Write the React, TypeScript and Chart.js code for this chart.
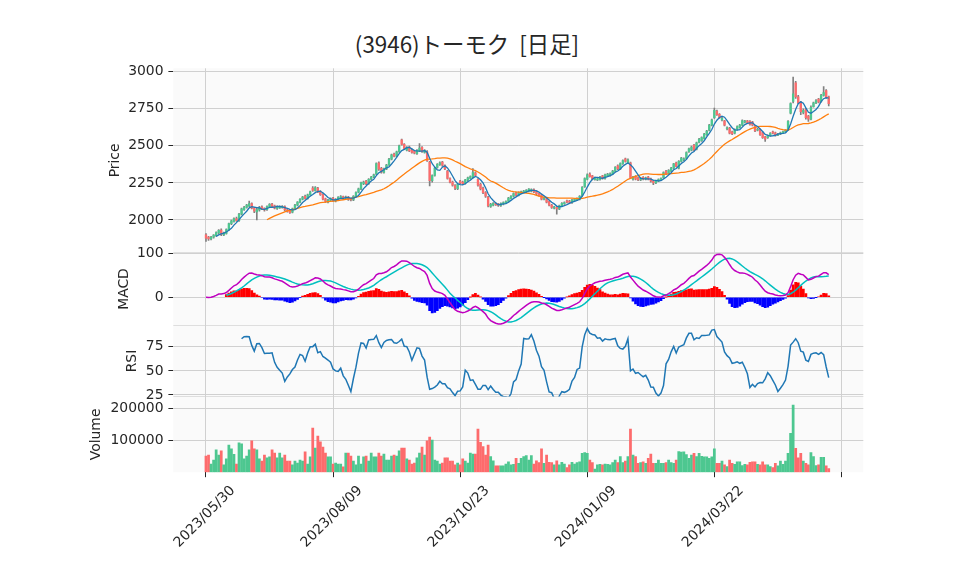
import React, { useEffect, useRef } from "react";
import { Chart, registerables } from "chart.js";

Chart.register(...registerables);

const chartTitle = "(3946)トーモク  [日足]";
const tickIndex = [0, 50, 100, 150, 200, 250];
const tickLabels = ["2023/05/30", "2023/08/09", "2023/10/23", "2024/01/09", "2024/03/22", ""];
const priceTicks = [2000, 2250, 2500, 2750, 3000];
const macdTicks = [0, 100];
const rsiTicks = [25, 50, 75];
const volumeTicks = [100000, 200000];

const opens = [
  1900,1885,1872,1885,1895,1912,1932,1900,1910,1935,
  1975,1990,2010,1995,2040,2070,2085,2095,2110,2080,
  2055,2068,2088,2078,2070,2090,2108,2095,2078,2082,
  2085,2090,2068,2062,2052,2075,2100,2120,2140,2160,
  2145,2170,2215,2198,2215,2192,2172,2142,2122,2132,
  2148,2128,2140,2150,2158,2148,2155,2140,2135,2160,
  2188,2210,2245,2262,2245,2275,2290,2310,2385,2348,
  2320,2345,2372,2410,2445,2430,2460,2540,2510,2470,
  2492,2470,2465,2448,2465,2490,2455,2460,2390,2265,
  2300,2355,2375,2390,2368,2330,2280,2255,2232,2212,
  2262,2255,2248,2268,2280,2290,2318,2275,2240,2215,
  2185,2155,2092,2100,2112,2108,2098,2108,2115,2125,
  2145,2160,2182,2168,2182,2188,2190,2195,2195,2205,
  2192,2178,2170,2140,2145,2125,2100,2080,2085,2075,
  2095,2110,2130,2128,2118,2132,2136,2140,2165,2225,
  2275,2310,2298,2272,2270,2272,2298,2280,2298,2300,
  2312,2330,2365,2345,2380,2412,2385,2385,2275,2295,
  2285,2270,2288,2275,2290,2278,2262,2250,2262,2270,
  2285,2330,2312,2330,2350,2385,2350,2395,2405,2415,
  2460,2470,2505,2478,2525,2535,2550,2575,2605,2640,
  2690,2735,2712,2675,2668,2615,2620,2595,2585,2612,
  2625,2640,2660,2668,2665,2660,2632,2605,2610,2590,
  2560,2555,2570,2595,2588,2572,2580,2588,2595,2608,
  2720,2800,2925,2830,2795,2725,2745,2700,2680,2765,
  2790,2815,2800,2840,2872,2830,
];

const highs = [
  1908,1890,1890,1902,1920,1935,1940,1918,1940,1980,
  2000,2015,2020,2045,2080,2092,2105,2128,2115,2085,
  2078,2092,2095,2082,2095,2110,2112,2100,2095,2095,
  2098,2095,2075,2068,2080,2105,2125,2145,2160,2168,
  2175,2195,2225,2225,2220,2198,2178,2148,2140,2150,
  2152,2145,2158,2165,2162,2162,2160,2145,2165,2190,
  2215,2255,2262,2268,2280,2295,2310,2385,2392,2355,
  2350,2375,2415,2445,2452,2465,2505,2545,2515,2495,
  2498,2478,2470,2475,2515,2495,2475,2468,2395,2305,
  2355,2380,2392,2395,2372,2335,2285,2262,2238,2245,
  2268,2262,2275,2290,2298,2347,2325,2280,2248,2222,
  2192,2160,2112,2118,2118,2112,2115,2122,2130,2152,
  2165,2183,2188,2190,2195,2200,2205,2212,2210,2210,
  2198,2182,2175,2155,2150,2130,2105,2092,2090,2100,
  2118,2122,2135,2132,2140,2145,2150,2165,2225,2285,
  2312,2318,2302,2290,2282,2295,2302,2310,2315,2318,
  2335,2360,2372,2385,2405,2418,2412,2390,2295,2300,
  2290,2288,2292,2290,2295,2282,2268,2268,2278,2285,
  2325,2335,2340,2355,2382,2390,2400,2422,2420,2460,
  2485,2498,2510,2525,2550,2560,2585,2605,2645,2680,
  2755,2742,2718,2692,2672,2628,2625,2600,2615,2635,
  2645,2675,2672,2672,2670,2665,2638,2618,2615,2595,
  2565,2575,2590,2600,2592,2585,2592,2600,2610,2670,
  2790,2964,2935,2840,2800,2750,2752,2705,2770,2795,
  2812,2820,2848,2900,2880,2835,
];

const lows = [
  1855,1862,1866,1878,1890,1905,1895,1895,1905,1930,
  1968,1985,1990,1990,2035,2065,2080,2090,2075,2050,
  2000,2060,2070,2060,2065,2085,2088,2075,2072,2078,
  2080,2062,2052,2045,2048,2070,2095,2115,2135,2140,
  2140,2165,2192,2195,2185,2165,2135,2118,2115,2128,
  2125,2122,2135,2145,2142,2142,2132,2128,2130,2155,
  2182,2205,2238,2238,2240,2270,2285,2305,2335,2315,
  2315,2340,2368,2405,2425,2425,2455,2505,2475,2465,
  2460,2450,2445,2442,2460,2455,2450,2395,2230,2255,
  2295,2350,2368,2362,2340,2275,2250,2228,2205,2205,
  2245,2238,2242,2262,2275,2285,2295,2228,2202,2178,
  2152,2088,2085,2095,2098,2092,2092,2102,2110,2120,
  2140,2155,2162,2162,2178,2182,2185,2190,2190,2185,
  2170,2160,2135,2135,2115,2095,2078,2075,2040,2070,
  2090,2105,2115,2112,2112,2128,2130,2135,2160,2220,
  2270,2288,2270,2268,2265,2268,2275,2275,2292,2296,
  2308,2325,2340,2340,2375,2390,2380,2278,2268,2270,
  2265,2265,2270,2270,2270,2255,2238,2245,2258,2265,
  2280,2305,2308,2326,2345,2358,2345,2390,2400,2410,
  2455,2465,2465,2472,2520,2530,2545,2570,2600,2635,
  2685,2705,2685,2668,2635,2608,2580,2575,2580,2605,
  2620,2635,2655,2650,2640,2635,2595,2600,2570,2550,
  2530,2550,2565,2580,2565,2568,2575,2582,2590,2602,
  2715,2790,2820,2785,2710,2715,2680,2665,2675,2760,
  2785,2790,2795,2835,2820,2770,
];

const closes = [
  1878,1872,1885,1898,1915,1930,1902,1912,1935,1975,
  1995,2010,1995,2040,2075,2085,2100,2110,2080,2060,
  2070,2085,2075,2068,2090,2105,2092,2080,2090,2088,
  2092,2068,2058,2050,2075,2100,2120,2140,2155,2145,
  2170,2190,2200,2218,2190,2170,2140,2125,2135,2145,
  2130,2140,2152,2158,2148,2155,2138,2135,2160,2185,
  2210,2250,2255,2245,2275,2290,2305,2380,2342,2322,
  2345,2370,2410,2440,2430,2460,2500,2510,2480,2490,
  2465,2455,2450,2470,2485,2462,2470,2400,2265,2300,
  2350,2375,2385,2370,2345,2280,2255,2235,2215,2240,
  2250,2245,2270,2285,2292,2320,2300,2235,2210,2185,
  2160,2095,2105,2112,2102,2098,2110,2118,2125,2148,
  2160,2178,2168,2185,2190,2195,2200,2208,2205,2190,
  2175,2165,2140,2150,2120,2100,2085,2088,2075,2095,
  2112,2118,2120,2118,2135,2140,2145,2160,2220,2280,
  2305,2292,2275,2285,2278,2290,2280,2305,2310,2312,
  2330,2355,2345,2380,2400,2395,2405,2285,2290,2275,
  2270,2282,2275,2285,2275,2262,2250,2262,2272,2280,
  2320,2310,2335,2350,2378,2362,2395,2418,2412,2455,
  2480,2492,2470,2520,2545,2555,2580,2600,2640,2675,
  2740,2710,2690,2685,2640,2622,2585,2580,2610,2630,
  2640,2670,2665,2655,2645,2640,2600,2612,2575,2555,
  2545,2570,2585,2585,2572,2580,2588,2595,2605,2665,
  2785,2850,2830,2790,2730,2740,2690,2680,2760,2790,
  2805,2795,2840,2860,2825,2785,
];

const volumes = [
  51000,54000,26000,38000,70000,54000,67000,23000,42000,85000,
  73000,56000,26000,92000,89000,42000,51000,70000,98000,73000,
  70000,42000,35000,54000,45000,48000,70000,60000,45000,60000,
  45000,54000,35000,35000,23000,35000,29000,38000,35000,64000,
  26000,48000,138000,76000,113000,95000,79000,60000,48000,48000,
  26000,29000,26000,26000,17000,60000,60000,51000,35000,23000,
  51000,26000,48000,51000,35000,60000,48000,48000,60000,51000,
  57000,38000,38000,51000,54000,51000,67000,76000,76000,42000,
  38000,26000,29000,45000,60000,79000,54000,98000,110000,101000,
  38000,35000,26000,29000,45000,45000,35000,35000,23000,29000,
  23000,42000,35000,29000,60000,57000,57000,135000,94000,80000,
  54000,85000,49000,36000,20000,20000,20000,20000,26000,33000,
  23000,25000,44000,28000,44000,49000,52000,38000,52000,26000,
  36000,30000,73000,28000,54000,31000,30000,23000,36000,23000,
  31000,26000,15000,23000,31000,26000,30000,33000,59000,62000,
  59000,38000,30000,10000,23000,25000,23000,26000,25000,23000,
  30000,38000,30000,49000,30000,35000,49000,135000,54000,49000,
  28000,30000,33000,28000,44000,57000,28000,28000,38000,28000,
  28000,30000,38000,30000,28000,38000,65000,63000,64000,55000,
  44000,54000,59000,49000,59000,50000,48000,48000,44000,48000,
  73000,28000,28000,35000,23000,18000,38000,28000,25000,33000,
  33000,21000,25000,23000,31000,33000,33000,25000,23000,33000,
  23000,23000,18000,15000,28000,20000,35000,25000,35000,59000,
  122000,210000,75000,45000,59000,35000,28000,23000,62000,49000,
  21000,23000,47000,47000,20000,12000,
];

const UP = "#4dc790";
const DOWN = "#fd6b6c";
const WICK = "#808080";
const GRID = "#d0d0d0";
const TEXT = "#262626";
const FONT = { family: '"DejaVu Sans", "Noto Sans CJK JP", sans-serif', size: 13.9 };

function sma(src: number[], n: number): (number | null)[] {
  return src.map((_, i) => {
    if (i < n - 1) return null;
    let s = 0;
    for (let k = i - n + 1; k <= i; k++) s += src[k];
    return s / n;
  });
}

function ema(src: number[], span: number): number[] {
  const a = 2 / (span + 1);
  const out: number[] = [];
  src.forEach((v, i) => out.push(i === 0 ? v : a * v + (1 - a) * out[i - 1]));
  return out;
}

function rsi(src: number[], n: number): (number | null)[] {
  return src.map((_, i) => {
    if (i < n) return null;
    let g = 0, l = 0;
    for (let k = i - n + 1; k <= i; k++) {
      const d = src[k] - src[k - 1];
      if (d > 0) g += d; else l -= d;
    }
    if (l === 0) return 100;
    const rs = g / l;
    return 100 - 100 / (1 + rs);
  });
}

const yWidth = (s: any) => { s.width = 173.3; };
const setTicks = (vals: number[]) => (s: any) => { s.ticks = vals.map((v) => ({ value: v })); };

function yAxis(weight: number, min: number, max: number, ticks: number[], label: string, pad: number) {
  return {
    type: "linear" as const,
    position: "left" as const,
    stack: "panels",
    stackWeight: weight,
    offset: false,
    min,
    max,
    afterBuildTicks: setTicks(ticks),
    afterFit: yWidth,
    border: { display: false },
    grid: { color: GRID, lineWidth: 1, tickColor: TEXT, tickLength: 4.9, offset: false },
    ticks: { color: TEXT, font: FONT, padding: 4.9, autoSkip: false, callback: (v: any) => String(v) },
    title: { display: true, text: label, color: TEXT, font: FONT, padding: { top: pad, bottom: 0 } },
  };
}

const panelPlugin = {
  id: "panelBg",
  beforeDraw(chart: any) {
    const { ctx, chartArea: a } = chart;
    ctx.save();
    ctx.fillStyle = "#fafafa";
    ctx.fillRect(a.left, a.top, a.right - a.left, a.bottom - a.top);
    ctx.strokeStyle = "#dedede";
    ctx.lineWidth = 1;
    ["yMacd", "yRsi", "yVol"].forEach((id) => {
      const y = chart.scales[id].top;
      ctx.beginPath();
      ctx.moveTo(a.left, y);
      ctx.lineTo(a.right, y);
      ctx.stroke();
    });
    ctx.restore();
  },
};

export default function App() {
  const ref = useRef<HTMLCanvasElement>(null);

  useEffect(() => {
    const canvas = ref.current!;
    const isUp = closes.map((c, i) => c >= opens[i]);
    const candleColors = isUp.map((u) => (u ? UP : DOWN));
    const ma5 = sma(closes, 5);
    const ma25 = sma(closes, 25);
    const e12 = ema(closes, 12);
    const e26 = ema(closes, 26);
    const macd = e12.map((v, i) => v - e26[i]);
    const signal = sma(macd, 9);
    const hist = macd.map((v, i) => (signal[i] === null ? null : v - (signal[i] as number)));
    const rsi14 = rsi(closes, 14);

    const pts = (arr: (number | null)[]) => arr.map((y, x) => ({ x, y }));

    const chart = new Chart(canvas, {
      type: "bar",
      data: {
        datasets: [
          { type: "line", label: "MA5", data: pts(ma5), yAxisID: "yPrice", borderColor: "#1f77b4", borderWidth: 1.3, pointRadius: 0, order: 0 },
          { type: "line", label: "MA25", data: pts(ma25), yAxisID: "yPrice", borderColor: "#ff7f0e", borderWidth: 1.3, pointRadius: 0, order: 0 },
          { type: "line", label: "MACD", data: pts(macd), yAxisID: "yMacd", borderColor: "#bf00bf", borderWidth: 1.5, pointRadius: 0, order: 0 },
          { type: "line", label: "Signal", data: pts(signal), yAxisID: "yMacd", borderColor: "#00bfbf", borderWidth: 1.5, pointRadius: 0, order: 0 },
          { type: "line", label: "RSI", data: pts(rsi14), yAxisID: "yRsi", borderColor: "#1f77b4", borderWidth: 1.5, pointRadius: 0, order: 0 },
          {
            type: "bar", label: "body", yAxisID: "yPrice", order: 2, grouped: false, barThickness: 1.7, minBarLength: 1,
            data: opens.map((o, i) => ({ x: i, y: [o, closes[i]] })) as any,
            backgroundColor: candleColors, borderWidth: 0,
          },
          {
            type: "bar", label: "wick", yAxisID: "yPrice", order: 3, grouped: false, barThickness: 1,
            data: lows.map((l, i) => ({ x: i, y: [l, highs[i]] })) as any,
            backgroundColor: WICK, borderWidth: 0,
          },
          {
            type: "bar", label: "hist", yAxisID: "yMacd", order: 2, grouped: false, barThickness: 2.1,
            data: pts(hist) as any,
            backgroundColor: hist.map((h) => (h !== null && h >= 0 ? "#ff0000" : "#0000ff")), borderWidth: 0,
          },
          {
            type: "bar", label: "volume", yAxisID: "yVol", order: 2, grouped: false, barThickness: 2.1,
            data: volumes.map((v, i) => ({ x: i, y: v })) as any,
            backgroundColor: candleColors, borderWidth: 0,
          },
        ] as any,
      },
      options: {
        animation: false,
        responsive: false,
        maintainAspectRatio: false,
        devicePixelRatio: 1,
        layout: { padding: { top: 68.3, right: 94.7, bottom: 0, left: 0 } },
        plugins: { legend: { display: false }, tooltip: { enabled: false }, title: { display: false } },
        scales: {
          x: {
            type: "linear",
            position: "bottom",
            offset: false,
            min: -12.86,
            max: 258.6,
            afterBuildTicks: setTicks(tickIndex),
            afterFit: (s: any) => { s.height = 102.7; },
            border: { display: false },
            grid: { color: GRID, lineWidth: 1, tickColor: TEXT, tickLength: 4.9, offset: false },
            ticks: {
              color: TEXT, font: FONT, autoSkip: false, maxRotation: 45, minRotation: 45,
              padding: 5.4, labelOffset: 27,
              callback: (_v: any, i: number) => tickLabels[i],
            },
          },
          yVol: yAxis(75.8, 0, 236875, volumeTicks, "Volume", 88.2),
          yRsi: yAxis(71, 23.4, 97.2, rsiTicks, "RSI", 123.7),
          yMacd: yAxis(73, -64.1, 101.8, macdTicks, "MACD", 115.8),
          yPrice: yAxis(184.2, 1780.8, 3022.9, priceTicks, "Price", 106.9),
        } as any,
      },
      plugins: [panelPlugin],
    });
    return () => chart.destroy();
  }, []);

  return (
    <div style={{ position: "absolute", left: 0, top: 0, width: 958, height: 575, background: "#ffffff", overflow: "hidden" }}>
      <div
        style={{
          position: "absolute", left: 0, top: 32, width: 934, textAlign: "center",
          fontFamily: '"Noto Sans CJK JP", sans-serif', fontSize: 22.4, lineHeight: "22.4px",
          color: TEXT, whiteSpace: "pre",
        }}
      >
        {chartTitle}
      </div>
      <canvas ref={ref} width={958} height={575} style={{ position: "absolute", left: 0, top: 0, width: 958, height: 575 }} />
    </div>
  );
}
